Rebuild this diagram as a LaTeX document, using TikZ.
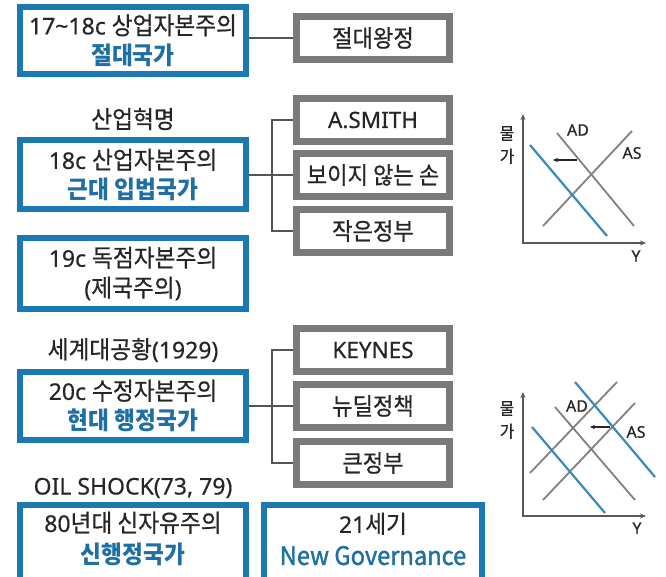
\documentclass[tikz,border=0pt]{standalone}
\usepackage{fontspec}
\setmainfont{Noto Sans}[UprightFeatures={FakeBold=0.5}]
\newfontfamily\kr{Noto Sans CJK KR}[Scale=1.06, FakeStretch=0.93, UprightFeatures={FakeBold=0.6}]
\newfontfamily\krmed{Noto Sans CJK KR}[Scale=1.06, FakeStretch=0.93, UprightFeatures={FakeBold=1.4}]
\usetikzlibrary{arrows.meta}
\definecolor{bluebox}{HTML}{1C78B2}
\definecolor{bluetext}{HTML}{1F6EA4}
\definecolor{graybox}{HTML}{7A7A7A}
\definecolor{txt}{HTML}{262626}
\definecolor{conncol}{HTML}{555555}
\definecolor{gline}{HTML}{808080}
\definecolor{bline}{HTML}{3A88BC}
\begin{document}
\begin{tikzpicture}[x=1pt,y=-1pt,
  erabox/.style={draw=bluebox, line width=6pt, minimum width=226pt, inner sep=0pt,
    align=center, text=txt, font=\fontsize{23}{30}\selectfont},
  eraopen/.style={draw=none, minimum width=226pt, inner sep=0pt,
    align=center, text=txt, font=\fontsize{23}{32}\selectfont},
  openline/.style={bluebox, line width=6pt},
  factbox/.style={draw=graybox, line width=7pt, minimum width=153pt, minimum height=43pt,
    inner sep=0pt, text=txt, font=\fontsize{22.5}{24}\selectfont},
  event/.style={text=txt, inner sep=0pt, font=\fontsize{23}{24}\selectfont},
  connline/.style={conncol, line width=1.4pt},
  axisline/.style={gray!70!black, line width=1.4pt, {Stealth[length=6pt,width=5pt]}-{Stealth[length=6pt,width=5pt]}},
  gcurve/.style={gline, line width=1.8pt},
  bcurve/.style={bline, line width=2.2pt},
  movearrow/.style={txt, line width=1.2pt, -{Stealth[length=5pt,width=4.5pt]}},
  glabel/.style={text=txt, inner sep=0pt, font=\fontsize{16}{23}\selectfont, align=center}]
\useasboundingbox (0,0) rectangle (666,577);
\clip (0,0) rectangle (666,577);

% left column: eras
\node[erabox, minimum height=67pt] (era1) at (133,40.5)
  {17\textasciitilde 18c {\kr 상업자본주의}\\{\color{bluetext}\kr\bfseries 절대국가}};
\node[event] (ev1) at (133,119) {\kr 산업혁명};
\node[erabox, minimum height=69pt] (era2) at (133,175)
  {18c {\kr 산업자본주의}\\{\color{bluetext}\kr\bfseries 근대 입법국가}};
\node[erabox, minimum height=71pt] (era3) at (133,273.5)
  {19c {\kr 독점자본주의}\\({\kr 제국주의})};
\node[event] (ev2) at (133,350) {{\kr 세계대공황}(1929)};
\node[erabox, minimum height=68pt] (era4) at (133,406)
  {20c {\kr 수정자본주의}\\{\color{bluetext}\kr\bfseries 현대 행정국가}};
\node[event] (ev3) at (133,488) {OIL SHOCK(73, 79)};
\node[eraopen, minimum height=67pt] (era5) at (133,539)
  {80{\kr 년대 신자유주의}\\{\color{bluetext}\kr\bfseries 신행정국가}};
\draw[openline] ([yshift=-20pt]era5.south west) -- (era5.north west) -- (era5.north east) -- ([yshift=-20pt]era5.south east);
\node[eraopen, minimum width=218pt, minimum height=67pt] (era6) at (373,539)
  {21{\kr 세기}\\{\color{bluetext}\krmed\fontsize{24}{32}\selectfont New Governance}};
\draw[openline] ([yshift=-20pt]era6.south west) -- (era6.north west) -- (era6.north east) -- ([yshift=-20pt]era6.south east);

% right column: facts
\node[factbox] (abs) at (373,38) {\kr 절대왕정};
\node[factbox] (smith) at (373,120) {A.SMITH};
\node[factbox] (hand) at (373,175) {\kr 보이지 않는 손};
\node[factbox] (small) at (373,231) {\kr 작은정부};
\node[factbox] (keynes) at (373,350) {KEYNES};
\node[factbox] (deal) at (373,406) {\kr 뉴딜정책};
\node[factbox] (big) at (373,463) {\kr 큰정부};

% connectors
\coordinate (bus) at (272,0);
\draw[connline] (era1.east |- abs.west) -- (abs.west);
\draw[connline] (era2.east |- hand.west) -- (hand.west);
\draw[connline] (smith.west) -- (smith.west -| bus) -- (small.west -| bus) -- (small.west);
\draw[connline] (era4.east |- deal.west) -- (deal.west);
\draw[connline] (keynes.west) -- (keynes.west -| bus) -- (big.west -| bus) -- (big.west);

% graph 1
\draw[axisline] (523,114) -- (523,243) -- (646,243);
\node[glabel] (p1) at (507,145) {\kr 물\\\kr 가};
\node[glabel] (y1) at (636,256) {Y};
\draw[gcurve] (557,133) -- (634,226);
\draw[gcurve] (543,226) -- (632,131);
\draw[bcurve] (530,145) -- (607,236);
\draw[movearrow] (577,160) -- (553,160);
\node[glabel] (ad1) at (578,130) {AD};
\node[glabel] (as1) at (632,153) {AS};

% graph 2
\draw[axisline] (523,392) -- (523,516) -- (646,516);
\node[glabel] (p2) at (507,420) {\kr 물\\\kr 가};
\node[glabel] (y2) at (637,528) {Y};
\draw[gcurve] (530,473) -- (617,382);
\draw[gcurve] (543,500) -- (635,403);
\draw[gcurve] (555,407) -- (635,500);
\draw[bcurve] (532,427) -- (605,513);
\draw[bcurve] (575,382) -- (655,477);
\draw[movearrow] (610,427) -- (590,427);
\node[glabel] (ad2) at (577,406) {AD};
\node[glabel] (as2) at (636,432) {AS};
\end{tikzpicture}
\end{document}
